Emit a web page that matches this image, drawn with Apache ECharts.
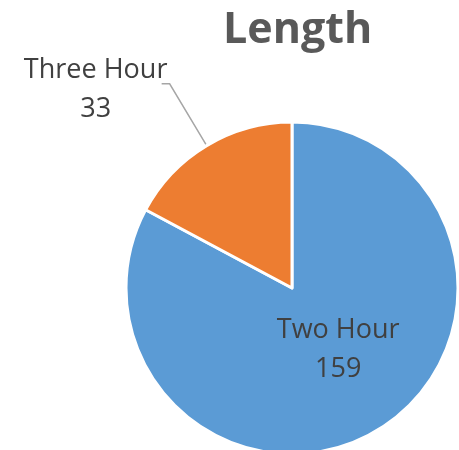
<!DOCTYPE html>
<html>
<head>
<meta charset="utf-8">
<script src="https://cdn.jsdelivr.net/npm/echarts@6/dist/echarts.min.js"></script>
<style>
html,body{margin:0;padding:0;background:#fff;}
#chart{width:459px;height:450px;}
</style>
</head>
<body>
<div id="chart"></div>
<script>
var titleText = 'Length';
var categories = ['Two Hour', 'Three Hour'];
var values = [159, 33];
var colors = ['#5B9BD5', '#ED7D31'];

var chart = echarts.init(document.getElementById('chart'), null, {renderer: 'canvas'});

var data = categories.map(function (name, i) {
  var item = { name: name, value: values[i], itemStyle: { color: colors[i] } };
  if (i === 0) {
    item.label = { position: 'inside' };
    item.labelLine = { show: false };
  } else {
    item.label = { position: 'outside', distanceToLabelLine: 1 };
  }
  return item;
});

chart.setOption({
  animation: false,
  title: {
    text: titleText,
    left: 218,
    top: 4,
    textStyle: {
      fontFamily: 'Open Sans',
      fontWeight: 'bold',
      fontSize: 43,
      color: '#595959'
    }
  },
  series: [{
    type: 'pie',
    center: [292, 288],
    radius: [0, 166],
    startAngle: 90,
    clockwise: true,
    avoidLabelOverlap: false,
    itemStyle: { borderColor: '#ffffff', borderWidth: 3 },
    label: {
      show: true,
      formatter: '{t|{b}}\n{t|{c}}',
      color: '#404040',
      fontFamily: 'Open Sans',
      fontSize: 27,
      rich: {
        t: { width: 144, align: 'center', fontFamily: 'Open Sans', fontSize: 27, color: '#404040', lineHeight: 39 }
      }
    },
    labelLine: {
      show: true,
      length: 72,
      length2: 8,
      lineStyle: { color: '#a6a6a6', width: 1.5 }
    },
    labelLayout: function (params) {
      if (params.dataIndex === 0) {
        return { dx: 2, dy: -12 };
      }
      return { dx: 7, dy: 6 };
    },
    emphasis: { disabled: true },
    data: data
  }]
});
</script>
</body>
</html>
